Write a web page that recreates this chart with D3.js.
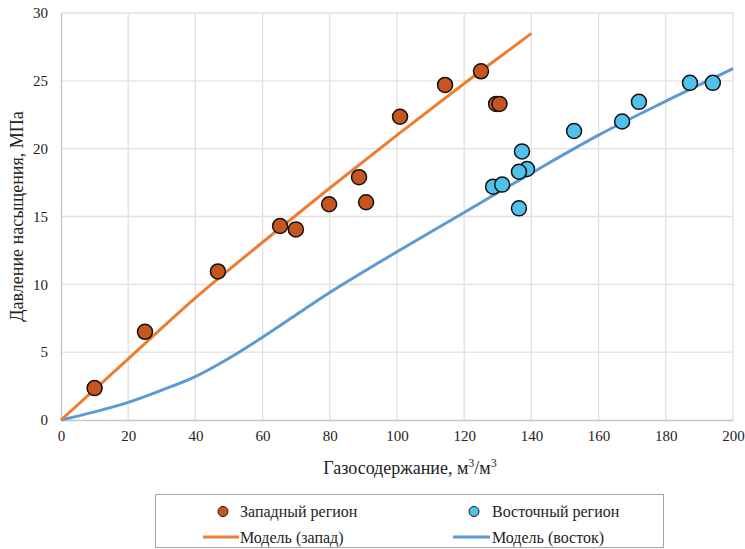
<!DOCTYPE html>
<html>
<head>
<meta charset="utf-8">
<script src="https://cdn.jsdelivr.net/npm/d3@7"></script>
<style>
  body { margin: 0; background: #fff; }
  svg text { font-family: 'Liberation Serif', 'Times New Roman', 'DejaVu Serif', serif !important; fill: #222; }
</style>
</head>
<body>
<div id="chart-area"></div>
<script>
// точки замеров
var westX = [10, 25, 46.7, 65.2, 69.9, 79.8, 88.7, 90.8, 100.9, 114.3, 125, 129.5, 130.5]
var westY = [2.35, 6.5, 10.95, 14.3, 14.05, 15.9, 17.9, 16.05, 22.35, 24.7, 25.7, 23.3, 23.3]
var eastX = [128.6, 131.3, 137.2, 138.7, 136.3, 136.3, 152.7, 167, 172, 187.2, 194]
var eastY = [17.2, 17.35, 19.8, 18.5, 18.3, 15.6, 21.3, 22.0, 23.45, 24.85, 24.85]

// модельные кривые
var westModelX = [0, 20, 40, 60, 80, 100, 120, 140]
var westModelY = [0, 4.5, 9.0, 13.1, 17.1, 21.0, 24.8, 28.5]
var eastModelX = [0, 10, 20, 30, 40, 50, 60, 70, 80, 100, 120, 140, 160, 180, 200]
var eastModelY = [0, 0.6, 1.3, 2.2, 3.2, 4.55, 6.1, 7.75, 9.4, 12.4, 15.3, 18.2, 21.0, 23.5, 25.9]

var xTicks = [0, 20, 40, 60, 80, 100, 120, 140, 160, 180, 200]
var yTicks = [0, 5, 10, 15, 20, 25, 30]

var legendNames = ['Западный регион', 'Восточный регион', 'Модель (запад)', 'Модель (восток)']

var margin = { top: 13, left: 61, bottom: 129, right: 12 }
var width = 745 - margin.left - margin.right
var height = 549 - margin.top - margin.bottom

var svg = d3.select('#chart-area').append('svg')
    .attr('width', 745)
    .attr('height', 549)

var g = svg.append('g').attr('transform', `translate(${margin.left}, ${margin.top})`)

var x = d3.scaleLinear().domain([0, 200]).range([0, width])
var y = d3.scaleLinear().domain([0, 30]).range([height, 0])

// сетка
g.append('g').selectAll('line').data(xTicks.slice(1)).enter().append('line')
    .attr('x1', d => x(d)).attr('x2', d => x(d))
    .attr('y1', 0).attr('y2', height)
    .attr('stroke', '#e3e0e0').attr('stroke-width', 1.3)
g.append('g').selectAll('line').data(yTicks.slice(1)).enter().append('line')
    .attr('x1', 0).attr('x2', width)
    .attr('y1', d => y(d)).attr('y2', d => y(d))
    .attr('stroke', '#e3e0e0').attr('stroke-width', 1.3)

var xAxis = g.append('g').attr('transform', `translate(0, ${height})`)
    .call(d3.axisBottom(x).tickValues(xTicks).tickSize(0).tickPadding(10))
var yAxis = g.append('g')
    .call(d3.axisLeft(y).tickValues(yTicks).tickSize(0).tickPadding(13))
xAxis.select('.domain').attr('stroke', '#c8c4c4').attr('stroke-width', 1.3)
yAxis.select('.domain').attr('stroke', '#c8c4c4').attr('stroke-width', 1.3)
svg.selectAll('.tick text').attr('font-size', '15px').attr('fill', '#222')

svg.append('text')
    .attr('x', 410).attr('y', 474)
    .attr('text-anchor', 'middle')
    .attr('font-size', '18px')
    .html('Газосодержание, м<tspan baseline-shift="super" font-size="12px">3</tspan>/м<tspan baseline-shift="super" font-size="12px">3</tspan>')

svg.append('text')
    .attr('transform', `translate(23, ${margin.top + height / 2}) rotate(-90)`)
    .attr('text-anchor', 'middle')
    .attr('font-size', '18px')
    .text('Давление насыщения, МПа')

var line = d3.line().x(d => x(d[0])).y(d => y(d[1])).curve(d3.curveCatmullRom)

g.append('path').datum(eastModelX.map((v, i) => [v, eastModelY[i]]))
    .attr('d', line).attr('fill', 'none')
    .attr('stroke', '#5b9bd5').attr('stroke-width', 3)
g.append('path').datum(westModelX.map((v, i) => [v, westModelY[i]]))
    .attr('d', line).attr('fill', 'none')
    .attr('stroke', '#ed7d31').attr('stroke-width', 3)

g.append('g').selectAll('circle').data(westX.map((v, i) => [v, westY[i]])).enter()
    .append('circle')
    .attr('cx', d => x(d[0])).attr('cy', d => y(d[1])).attr('r', 7.5)
    .attr('fill', '#c65520').attr('stroke', '#111').attr('stroke-width', 1.5)
g.append('g').selectAll('circle').data(eastX.map((v, i) => [v, eastY[i]])).enter()
    .append('circle')
    .attr('cx', d => x(d[0])).attr('cy', d => y(d[1])).attr('r', 7.5)
    .attr('fill', '#4fc1ea').attr('stroke', '#111').attr('stroke-width', 1.5)

// легенда
var legend = svg.append('g')
legend.append('rect')
    .attr('x', 155.5).attr('y', 494.5).attr('width', 508).attr('height', 53)
    .attr('fill', 'none').attr('stroke', '#a6a6a6').attr('stroke-width', 1)

legend.append('circle').attr('cx', 223).attr('cy', 511.5).attr('r', 5)
    .attr('fill', '#c65520').attr('stroke', '#111').attr('stroke-width', 1)
legend.append('circle').attr('cx', 474).attr('cy', 511.5).attr('r', 5)
    .attr('fill', '#4fc1ea').attr('stroke', '#111').attr('stroke-width', 1)
legend.append('line').attr('x1', 203).attr('x2', 239).attr('y1', 537).attr('y2', 537)
    .attr('stroke', '#ed7d31').attr('stroke-width', 3)
legend.append('line').attr('x1', 453).attr('x2', 490).attr('y1', 537).attr('y2', 537)
    .attr('stroke', '#5b9bd5').attr('stroke-width', 3)

var lx = [240, 492, 240, 492]
var ly = [516.5, 516.5, 542.5, 542.5]
legend.selectAll('text.lg').data(legendNames).enter().append('text')
    .attr('class', 'lg')
    .attr('x', (d, i) => lx[i]).attr('y', (d, i) => ly[i])
    .attr('font-size', '16px')
    .text(d => d)
</script>
</body>
</html>
